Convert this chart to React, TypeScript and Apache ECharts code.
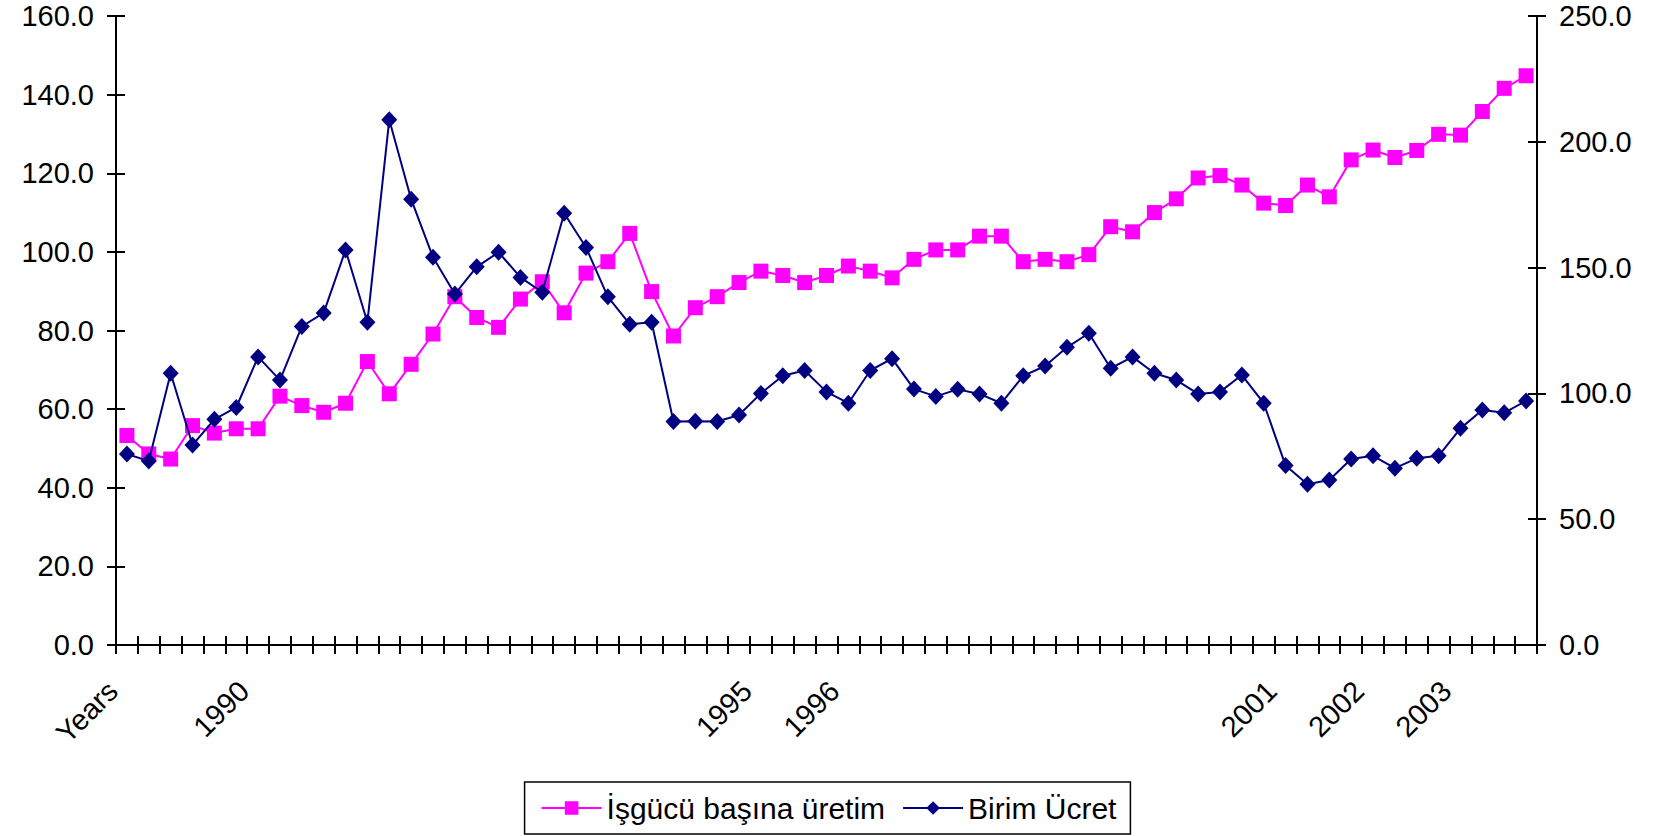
import React, { useEffect, useRef } from "react";
import * as echarts from "echarts";

const categories = [
  "Years", "", "", "", "", "", "1990", "", "", "",
  "", "", "", "", "", "", "", "", "", "",
  "", "", "", "", "", "", "", "", "", "1995",
  "", "", "", "1996", "", "", "", "", "", "",
  "", "", "", "", "", "", "", "", "", "",
  "", "", "", "2001", "", "", "", "2002", "", "",
  "", "2003", "", "", "",
];

const uretim = [
  53.3, 48.6, 47.3, 55.8, 53.9, 55.0, 55.0, 63.3, 60.9, 59.2,
  61.5, 72.1, 63.9, 71.4, 79.1, 88.6, 83.3, 80.8, 88.0, 92.4,
  84.5, 94.6, 97.5, 104.7, 89.9, 78.6, 85.8, 88.6, 92.2, 95.1,
  94.0, 92.2, 94.0, 96.4, 95.1, 93.4, 98.1, 100.5, 100.5, 104.0,
  104.0, 97.5, 98.1, 97.5, 99.3, 106.4, 105.1, 110.0, 113.5, 118.8,
  119.4, 117.0, 112.4, 111.8, 117.0, 114.0, 123.4, 125.9, 124.0, 125.8,
  129.9, 129.7, 135.7, 141.6, 144.8,
];

const birimUcret = [
  75.9, 73.1, 108.0, 79.5, 89.7, 94.4, 114.5, 105.3, 126.6, 132.0,
  157.0, 128.3, 208.8, 177.2, 154.1, 139.5, 150.3, 156.1, 146.1, 140.2,
  171.6, 158.0, 138.4, 127.5, 128.3, 88.8, 88.9, 88.8, 91.4, 100.0,
  107.0, 109.1, 100.6, 96.1, 109.1, 113.8, 101.7, 98.8, 101.6, 99.8,
  96.1, 107.0, 110.9, 118.3, 123.9, 110.0, 114.5, 108.0, 105.3, 99.8,
  100.6, 107.3, 96.1, 71.3, 63.9, 65.6, 73.9, 75.2, 70.3, 74.2,
  75.2, 86.1, 93.4, 92.3, 97.0,
];

const FONT = "'Liberation Sans', Arial, sans-serif";

export default function App() {
  const ref = useRef<HTMLDivElement>(null);
  useEffect(() => {
    document.body.style.margin = "0";
    document.body.style.overflow = "hidden";
    const chart = echarts.init(ref.current!, null, { renderer: "svg" });
    const lineStyle = { color: "#000", width: 2 };
    const fmt = (v: number) => v.toFixed(1);
    chart.setOption({
      animation: false,
      backgroundColor: "#fff",
      textStyle: { fontFamily: FONT },
      grid: { left: 116, right: 120, top: 16, bottom: 191, containLabel: false },
      legend: {
        data: ["İşgücü başına üretim", "Birim Ücret"],
        left: "center",
        top: 782,
        orient: "horizontal",
        borderColor: "#000",
        borderWidth: 1.5,
        padding: [11, 14, 11, 16],
        itemWidth: 60,
        itemHeight: 17,
        itemGap: 17,
        textStyle: { fontSize: 30, color: "#000", fontFamily: FONT },
      },
      xAxis: [
        {
          type: "category",
          data: categories,
          position: "bottom",
          boundaryGap: true,
          axisLine: { onZero: false, lineStyle },
          axisTick: { show: true, inside: false, length: 9, interval: 0, lineStyle },
          axisLabel: {
            interval: 0,
            rotate: 45,
            margin: 27,
            padding: [0, 20, 0, 0],
            fontSize: 29,
            color: "#000",
            fontFamily: FONT,
          },
          splitLine: { show: false },
        },
        {
          type: "category",
          data: categories,
          position: "bottom",
          boundaryGap: true,
          axisLine: { show: false, onZero: false },
          axisTick: { show: true, inside: true, length: 9, interval: 0, lineStyle },
          axisLabel: { show: false },
          splitLine: { show: false },
        },
      ],
      yAxis: [
        {
          type: "value",
          position: "left",
          min: 0,
          max: 160,
          interval: 20,
          axisLine: { show: true, lineStyle },
          axisTick: { show: true, length: 9, lineStyle },
          axisLabel: { formatter: fmt, fontSize: 29, color: "#000", margin: 22, fontFamily: FONT },
          splitLine: { show: false },
        },
        {
          type: "value",
          position: "right",
          min: 0,
          max: 250,
          interval: 50,
          axisLine: { show: true, lineStyle },
          axisTick: { show: true, length: 9, lineStyle },
          axisLabel: { formatter: fmt, fontSize: 29, color: "#000", margin: 22, fontFamily: FONT },
          splitLine: { show: false },
        },
        {
          type: "value",
          position: "left",
          min: 0,
          max: 160,
          interval: 20,
          axisLine: { show: false },
          axisTick: { show: true, inside: true, length: 9, lineStyle },
          axisLabel: { show: false },
          splitLine: { show: false },
        },
        {
          type: "value",
          position: "right",
          min: 0,
          max: 250,
          interval: 50,
          axisLine: { show: false },
          axisTick: { show: true, inside: true, length: 9, lineStyle },
          axisLabel: { show: false },
          splitLine: { show: false },
        },
      ],
      series: [
        {
          name: "İşgücü başına üretim",
          type: "line",
          data: uretim,
          xAxisIndex: 0,
          yAxisIndex: 0,
          symbol: "rect",
          symbolSize: 15,
          showAllSymbol: true,
          itemStyle: { color: "#FF00FF" },
          lineStyle: { color: "#FF00FF", width: 2 },
          z: 2,
        },
        {
          name: "Birim Ücret",
          type: "line",
          data: birimUcret,
          xAxisIndex: 0,
          yAxisIndex: 1,
          symbol: "diamond",
          symbolSize: [16, 17],
          showAllSymbol: true,
          itemStyle: { color: "#000080" },
          lineStyle: { color: "#000080", width: 2 },
          z: 3,
        },
      ],
    });
    return () => chart.dispose();
  }, []);
  return <div ref={ref} style={{ width: 1657, height: 836 }} />;
}
